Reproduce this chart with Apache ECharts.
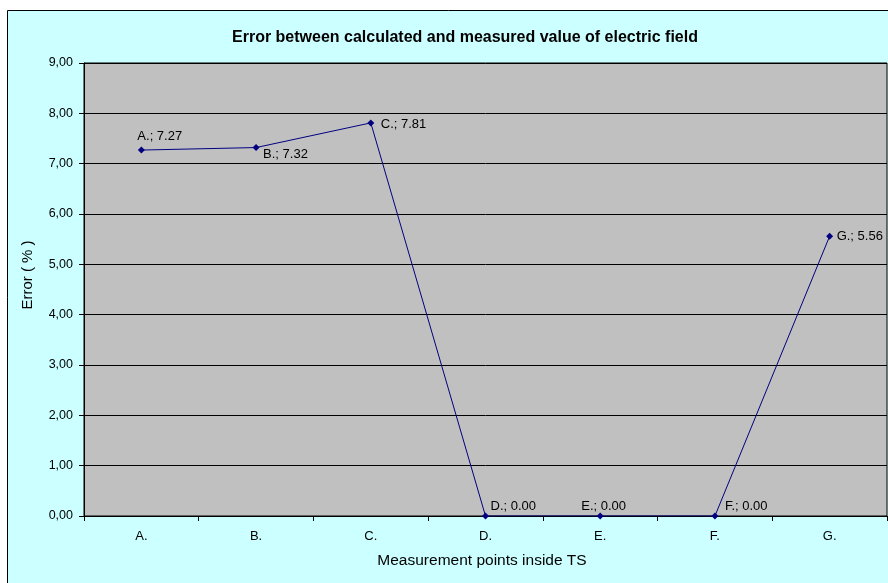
<!DOCTYPE html>
<html>
<head>
<meta charset="utf-8">
<script src="https://cdn.jsdelivr.net/npm/echarts@6/dist/echarts.min.js"></script>
<style>html,body{margin:0;padding:0;background:#fff;}#c{width:888px;height:583px;}</style>
</head>
<body>
<div id="c"></div>
<script>
const categories = ['A.', 'B.', 'C.', 'D.', 'E.', 'F.', 'G.'];
const errorValues = [7.27, 7.32, 7.81, 0.00, 0.00, 0.00, 5.56];
const yTicks = { min: 0, max: 9, interval: 1 };
const titleText = 'Error between calculated and measured value of electric field';
const xName = 'Measurement points inside TS';
const yName = 'Error ( % )';

// label placement per point (style only)
const labelOffsets = [[-4, -14], [7, 7], [10, 2], [5, -10], [-19, -10], [10, -10], [7, 0]];

const chart = echarts.init(document.getElementById('c'), null, { renderer: 'canvas' });
const font = 'Arial, "Liberation Sans", sans-serif';

const data = errorValues.map((v, i) => ({
  value: v,
  label: {
    show: true,
    position: 'inside',
    align: 'left',
    verticalAlign: 'middle',
    offset: labelOffsets[i],
    formatter: categories[i] + '; ' + v.toFixed(2)
  }
}));

chart.setOption({
  animation: false,
  backgroundColor: '#ffffff',
  graphic: [
    { type: 'rect', z: -10, shape: { x: 7.5, y: 10.5, width: 900, height: 600 },
      style: { fill: '#CCFFFF', stroke: '#000', lineWidth: 1 } },
    { type: 'text', x: 465, y: 38,
      style: { text: titleText, font: 'bold 16px ' + font, fill: '#000', textAlign: 'center', textVerticalAlign: 'middle' } },
    { type: 'text', x: 482, y: 561,
      style: { text: xName, font: '15.5px ' + font, fill: '#000', textAlign: 'center', textVerticalAlign: 'middle' } },
    { type: 'text', x: 28, y: 275, rotation: Math.PI / 2,
      style: { text: yName, font: '15px ' + font, fill: '#000', textAlign: 'center', textVerticalAlign: 'middle' } }
  ],
  grid: { left: 84, top: 63, width: 803, height: 453, show: true,
    backgroundColor: '#C0C0C0', borderColor: '#000', borderWidth: 1 },
  xAxis: {
    type: 'category', data: categories, boundaryGap: true,
    axisLine: { lineStyle: { color: '#000', width: 1 } },
    axisTick: { show: true, length: 5, lineStyle: { color: '#000' } },
    axisLabel: { color: '#000', fontSize: 13, fontFamily: font, margin: 14 }
  },
  yAxis: {
    type: 'value', min: yTicks.min, max: yTicks.max, interval: yTicks.interval,
    axisLine: { show: true, lineStyle: { color: '#000', width: 1 } },
    axisTick: { show: true, length: 5, lineStyle: { color: '#000' } },
    axisLabel: { color: '#000', fontSize: 12.5, fontFamily: font, margin: 11,
      formatter: v => v.toFixed(2).replace('.', ',') },
    splitLine: { show: true, lineStyle: { color: '#000', width: 1 } }
  },
  series: [{
    type: 'line',
    data: data,
    symbol: 'diamond',
    symbolSize: 7,
    lineStyle: { color: '#000080', width: 1 },
    itemStyle: { color: '#000080' },
    label: { color: '#000', fontSize: 13, fontFamily: font },
    emphasis: { disabled: true }
  }]
});
</script>
</body>
</html>
